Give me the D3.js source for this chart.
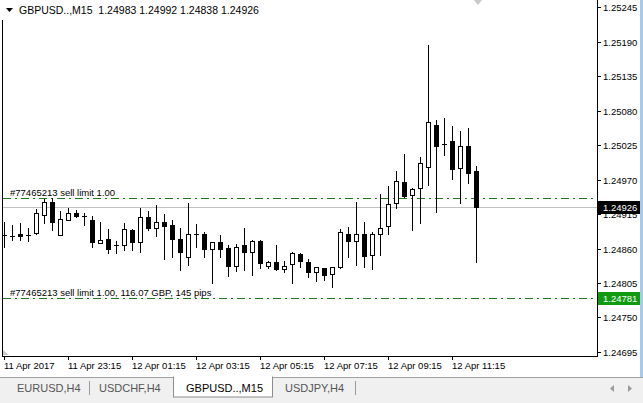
<!DOCTYPE html>
<html><head><meta charset="utf-8">
<script src="https://cdn.jsdelivr.net/npm/d3@7"></script>
<style>
html,body{margin:0;padding:0;background:#fff;overflow:hidden;}
svg{display:block;font-family:"Liberation Sans",Arial,sans-serif;}
</style></head>
<body>
<svg id="c" width="643" height="403"></svg>
<script>
// ---- data ----
const times = ["11 Apr 21:15","11 Apr 21:30","11 Apr 21:45","11 Apr 22:00","11 Apr 22:15","11 Apr 22:30","11 Apr 22:45","11 Apr 23:00",
"11 Apr 23:15","11 Apr 23:30","11 Apr 23:45","12 Apr 00:00","12 Apr 00:15","12 Apr 00:30","12 Apr 00:45","12 Apr 01:00",
"12 Apr 01:15","12 Apr 01:30","12 Apr 01:45","12 Apr 02:00","12 Apr 02:15","12 Apr 02:30","12 Apr 02:45","12 Apr 03:00",
"12 Apr 03:15","12 Apr 03:30","12 Apr 03:45","12 Apr 04:00","12 Apr 04:15","12 Apr 04:30","12 Apr 04:45","12 Apr 05:00",
"12 Apr 05:15","12 Apr 05:30","12 Apr 05:45","12 Apr 06:00","12 Apr 06:15","12 Apr 06:30","12 Apr 06:45","12 Apr 07:00",
"12 Apr 07:15","12 Apr 07:30","12 Apr 07:45","12 Apr 08:00","12 Apr 08:15","12 Apr 08:30","12 Apr 08:45","12 Apr 09:00",
"12 Apr 09:15","12 Apr 09:30","12 Apr 09:45","12 Apr 10:00","12 Apr 10:15","12 Apr 10:30","12 Apr 10:45","12 Apr 11:00",
"12 Apr 11:15","12 Apr 11:30","12 Apr 11:45","12 Apr 12:00"];
const opens = [1.24882,1.24880,1.24883,1.24882,1.24885,1.24913,1.24934,1.24882,1.24906,1.24917,
1.24912,1.24906,1.24869,1.24875,1.24866,1.24866,1.24889,1.24870,1.24910,1.24893,
1.24902,1.24898,1.24875,1.24847,1.24883,1.24883,1.24859,1.24870,1.24861,1.24832,
1.24866,1.24854,1.24872,1.24832,1.24839,1.24827,1.24835,1.24851,1.24839,1.24823,
1.24829,1.24819,1.24831,1.24883,1.24872,1.24883,1.24850,1.24883,1.24896,1.24933,
1.24966,1.24945,1.24956,1.24990,1.25057,1.25027,1.25031,1.24988,1.25023,1.24983];
const highs = [1.24902,1.24898,1.24901,1.24893,1.24923,1.24939,1.24941,1.24920,1.24925,1.24921,
1.24917,1.24912,1.24902,1.24891,1.24872,1.24901,1.24891,1.24925,1.24920,1.24929,
1.24915,1.24906,1.24893,1.24933,1.24899,1.24886,1.24870,1.24882,1.24866,1.24867,
1.24893,1.24874,1.24874,1.24840,1.24866,1.24840,1.24854,1.24853,1.24843,1.24831,
1.24829,1.24831,1.24891,1.24894,1.24934,1.24902,1.24886,1.24947,1.24960,1.24984,
1.25011,1.24956,1.25006,1.25184,1.25065,1.25068,1.25055,1.25047,1.25052,1.24992];
const lows = [1.24862,1.24874,1.24874,1.24872,1.24883,1.24901,1.24889,1.24882,1.24906,1.24910,
1.24898,1.24862,1.24869,1.24853,1.24853,1.24858,1.24858,1.24854,1.24889,1.24880,
1.24843,1.24847,1.24826,1.24834,1.24862,1.24847,1.24805,1.24847,1.24816,1.24824,
1.24826,1.24818,1.24829,1.24829,1.24826,1.24823,1.24805,1.24831,1.24815,1.24808,
1.24810,1.24799,1.24829,1.24847,1.24834,1.24831,1.24827,1.24850,1.24883,1.24925,
1.24942,1.24889,1.24901,1.24961,1.24918,1.25009,1.24971,1.24933,1.24964,1.24838];
const closes = [1.24882,1.24880,1.24880,1.24882,1.24917,1.24934,1.24902,1.24907,1.24917,1.24912,
1.24912,1.24870,1.24874,1.24859,1.24865,1.24891,1.24870,1.24910,1.24893,1.24902,
1.24896,1.24875,1.24854,1.24883,1.24883,1.24859,1.24870,1.24859,1.24832,1.24862,
1.24854,1.24872,1.24837,1.24839,1.24827,1.24832,1.24853,1.24840,1.24823,1.24831,
1.24818,1.24831,1.24886,1.24872,1.24883,1.24848,1.24883,1.24893,1.24931,1.24968,
1.24944,1.24955,1.24996,1.25062,1.25023,1.25027,1.24987,1.25023,1.24980,1.24926];

const priceTicks = [1.25245,1.25190,1.25135,1.25080,1.25025,1.24970,1.24915,1.24860,1.24805,1.24750,1.24695];
const timeTickIndex = [0,8,16,24,32,40,48,56];
const timeTickLabels = ["11 Apr 2017","11 Apr 23:15","12 Apr 01:15","12 Apr 03:15","12 Apr 05:15","12 Apr 07:15","12 Apr 09:15","12 Apr 11:15"];

const orderPrices = [1.24941, 1.24781];
const orderLabels = ["#77465213 sell limit 1.00", "#77465213 sell limit 1.00, 116.07 GBP, 145 pips"];
const bidPrice = 1.24926;
const symbolTitle = "GBPUSD..,M15";
const tabs = ["EURUSD,H4","USDCHF,H4","GBPUSD..,M15","USDJPY,H4"];

// ---- layout ----
const svg = d3.select("#c");
const L = 2, R = 597, B = 356;
const y = d3.scaleLinear().domain([1.24695, 1.25245]).range([352, 7]);
const x = d3.scaleLinear().domain([0, times.length - 1]).range([4.8, 476.8]);
const px = i => Math.floor(x(i));
const py = v => Math.round(y(v));

svg.append("rect").attr("width",643).attr("height",403).attr("fill","#fff");

// clip for plot
svg.append("clipPath").attr("id","pc").append("rect").attr("x",L+1).attr("y",0).attr("width",R-L-1).attr("height",B);

const plot = svg.append("g").attr("clip-path","url(#pc)");

// bid line
plot.append("line").attr("x1",L).attr("x2",R).attr("y1",py(bidPrice)+0.5).attr("y2",py(bidPrice)+0.5)
  .attr("stroke","#c0c0c0").attr("stroke-width",1);

// order lines
orderPrices.forEach((p,k)=>{
  plot.append("line").attr("x1",L+1).attr("x2",R).attr("y1",py(p)+0.5).attr("y2",py(p)+0.5)
    .attr("stroke","#1c7a1c").attr("stroke-width",1).attr("stroke-dasharray","8,4,2,4");
  plot.append("text").attr("x",10).attr("y",py(p)-2).attr("font-size","9.5px").attr("fill","#000")
    .text(orderLabels[k]);
});

// candles
const idx = d3.range(times.length);
const cg = plot.append("g");
idx.forEach(i=>{
  const cx = px(i);
  const o = py(opens[i]), c = py(closes[i]), h = py(highs[i]), l = py(lows[i]);
  cg.append("line").attr("x1",cx+0.5).attr("x2",cx+0.5).attr("y1",h).attr("y2",l+1)
    .attr("stroke","#000").attr("stroke-width",1);
  const top = Math.min(o,c), bot = Math.max(o,c);
  if (bot - top < 1) {
    cg.append("line").attr("x1",cx-2).attr("x2",cx+3).attr("y1",top+0.5).attr("y2",top+0.5)
      .attr("stroke","#000").attr("stroke-width",1);
  } else if (closes[i] > opens[i]) {
    cg.append("rect").attr("x",cx-1.5).attr("y",top+0.5).attr("width",4).attr("height",bot-top)
      .attr("fill","#fff").attr("stroke","#000").attr("stroke-width",1);
  } else {
    cg.append("rect").attr("x",cx-2).attr("y",top).attr("width",5).attr("height",bot-top+1)
      .attr("fill","#000");
  }
});

// frame
svg.append("line").attr("x1",L+0.5).attr("x2",L+0.5).attr("y1",20).attr("y2",B+0.5).attr("stroke","#000");
svg.append("line").attr("x1",L).attr("x2",R+1).attr("y1",B+0.5).attr("y2",B+0.5).attr("stroke","#000");
svg.append("line").attr("x1",R+0.5).attr("x2",R+0.5).attr("y1",0).attr("y2",B+1).attr("stroke","#000");

// price axis
const ya = svg.append("g");
priceTicks.forEach(t=>{
  const yy = py(t);
  ya.append("line").attr("x1",R+1).attr("x2",R+4).attr("y1",yy+0.5).attr("y2",yy+0.5).attr("stroke","#000");
  ya.append("text").attr("x",603).attr("y",yy+3.5).attr("font-size","9.5px").attr("fill","#000")
    .text(d3.format(".5f")(t));
});
// bid label
ya.append("rect").attr("x",R+1).attr("y",py(bidPrice)-6).attr("width",42).attr("height",13).attr("fill","#000");
ya.append("text").attr("x",603).attr("y",py(bidPrice)+4).attr("font-size","9.5px").attr("fill","#fff").text(d3.format(".5f")(bidPrice));
// order label
ya.append("rect").attr("x",R+1).attr("y",py(orderPrices[1])-6).attr("width",42).attr("height",13).attr("fill","#0f9a0f");
ya.append("text").attr("x",603).attr("y",py(orderPrices[1])+4).attr("font-size","9.5px").attr("fill","#fff").text(d3.format(".5f")(orderPrices[1]));

// time axis
timeTickIndex.forEach((ti,k)=>{
  const xx = px(ti);
  svg.append("line").attr("x1",xx+0.5).attr("x2",xx+0.5).attr("y1",B+1).attr("y2",B+4).attr("stroke","#000");
  svg.append("text").attr("x",xx).attr("y",369).attr("font-size","9.5px").attr("fill","#000").text(timeTickLabels[k]);
});

// title
svg.append("path").attr("d","M6,8 L13,8 L9.5,12 Z").attr("fill","#000");
svg.append("text").attr("x",19).attr("y",14).attr("font-size","10.5px").attr("fill","#000")
  .attr("xml:space","preserve").style("white-space","pre")
  .text(symbolTitle + "  " + [opens[59],highs[59],lows[59],closes[59]].map(d3.format(".5f")).join(" "));

// shift marker
svg.append("path").attr("d","M474,0 L482,0 L478,5 Z").attr("fill","#c8c8c8");
svg.append("path").attr("d","M3,350 L3,355 L9,355 Z").attr("fill","#c8c8c8");

// right window edge
svg.append("rect").attr("x",640).attr("y",0).attr("width",3).attr("height",377).attr("fill","#a9c9ea");

// tab bar
svg.append("rect").attr("x",0).attr("y",377).attr("width",643).attr("height",26).attr("fill","#f0f0f0");
svg.append("line").attr("x1",0).attr("x2",643).attr("y1",377.5).attr("y2",377.5).attr("stroke","#a0a0a0");
const tabX = [17,99,186,285];
const sepX = [89,172,355];
svg.append("rect").attr("x",173.5).attr("y",377).attr("width",99).attr("height",20).attr("fill","#fff").attr("stroke","#8c8c8c");
svg.append("rect").attr("x",174).attr("y",376).attr("width",98).attr("height",3).attr("fill","#fff");
tabs.forEach((t,k)=>{
  svg.append("text").attr("x",tabX[k]).attr("y",392).attr("font-size","11px")
    .attr("fill", k===2 ? "#000" : "#555").text(t);
});
[89,355].forEach(sx=>{
  svg.append("line").attr("x1",sx+0.5).attr("x2",sx+0.5).attr("y1",381).attr("y2",395).attr("stroke","#9a9a9a");
});
svg.append("path").attr("d","M614,385 L610,388.5 L614,392 Z").attr("fill","#9a9a9a");
svg.append("path").attr("d","M628,385 L632,388.5 L628,392 Z").attr("fill","#9a9a9a");
</script>
</body></html>
